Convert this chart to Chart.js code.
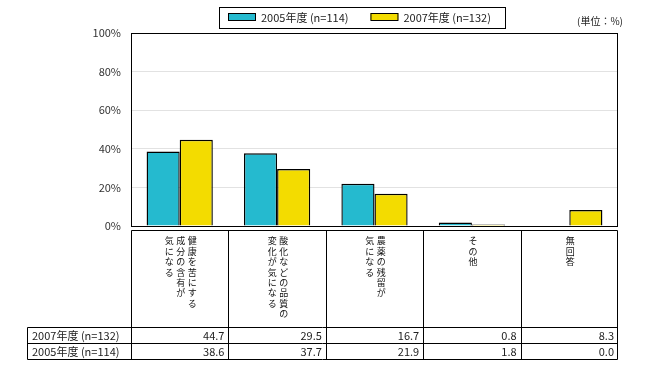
<!DOCTYPE html>
<html>
<head>
<meta charset="utf-8">
<script src="https://cdn.jsdelivr.net/npm/chart.js@4/dist/chart.umd.min.js"></script>
<style>
  html, body { margin: 0; padding: 0; background: #fff; }
  canvas { display: block; }
</style>
</head>
<body>
<canvas id="chart" width="650" height="370"></canvas>
<script>
// category labels, one string per vertical column (read right to left)
const categories = [
    ['健康を苦にする', '成分の含有が', '気になる'],
    ['酸化などの品質の', '変化が気になる'],
    ['農薬の残留が', '気になる'],
    ['その他'],
    ['無回答']
];
const seriesNames = ['2005年度 (n=114)', '2007年度 (n=132)'];
const values2005 = [38.6, 37.7, 21.9, 1.8, 0.0];
const values2007 = [44.7, 29.5, 16.7, 0.8, 8.3];
const yTicks = [0, 20, 40, 60, 80, 100];
const unitLabel = '(単位：%)';

const fontFamily = '"Noto Sans CJK JP", "Noto Sans", sans-serif';
const textColor = '#222';

Chart.defaults.font.family = fontFamily;

function line(ctx, x1, y1, x2, y2) {
    ctx.beginPath();
    ctx.moveTo(x1, y1);
    ctx.lineTo(x2, y2);
    ctx.stroke();
}

const extrasPlugin = {
    id: 'extras',
    afterDatasetsDraw(chart) {
        const ctx = chart.ctx;
        const area = chart.chartArea;
        ctx.save();
        ctx.strokeStyle = '#000';
        ctx.lineWidth = 1;
        ctx.strokeRect(Math.round(area.left) + 0.5, Math.round(area.top) + 0.5,
            Math.round(area.right - area.left) - 1, Math.round(area.bottom - area.top));
        ctx.restore();
    },
    afterDraw(chart) {
        const ctx = chart.ctx;
        const area = chart.chartArea;
        const xScale = chart.scales.x;
        const catWidth = (area.right - area.left) / categories.length;
        const left = Math.round(area.left) + 0.5;
        const right = Math.round(area.right) - 0.5;

        ctx.save();
        ctx.strokeStyle = '#000';
        ctx.lineWidth = 1;
        ctx.fillStyle = textColor;

        // legend
        const legTop = 7.5, legBottom = 28.5;
        ctx.strokeRect(219.5, legTop, 286, legBottom - legTop);
        ctx.font = '11px ' + fontFamily;
        ctx.textBaseline = 'middle';
        ctx.textAlign = 'left';
        let lx = 228;
        chart.data.datasets.forEach((ds) => {
            ctx.fillStyle = ds.backgroundColor;
            ctx.fillRect(lx, 13, 28, 7);
            ctx.strokeRect(lx + 0.5, 13.5, 27, 7);
            ctx.fillStyle = textColor;
            ctx.fillText(ds.label, lx + 33, 18);
            lx += 33 + ctx.measureText(ds.label).width + 22;
        });

        // unit
        ctx.font = '10px ' + fontFamily;
        ctx.textAlign = 'right';
        ctx.fillText(unitLabel, 623, 21);

        // category label box
        const boxTop = 230.5, boxBottom = 327.5;
        const rowH = 16;
        const tableLeft = 27.5;
        line(ctx, left, boxTop, right, boxTop);
        for (let i = 0; i <= categories.length; i++) {
            const x = Math.round(area.left + i * catWidth) + 0.5 - (i === categories.length ? 1 : 0);
            line(ctx, x, boxTop, x, boxBottom + 2 * rowH);
        }

        ctx.font = '9px ' + fontFamily;
        ctx.textAlign = 'center';
        ctx.textBaseline = 'middle';
        ctx.fillStyle = '#111';
        categories.forEach((cols, i) => {
            const cx = xScale.getPixelForValue(i) + 1;
            const n = cols.length;
            cols.forEach((col, j) => {
                const x = cx + ((n - 1) / 2 - j) * 11.5;
                Array.from(col).forEach((ch, k) => {
                    ctx.fillText(ch, x, 241 + k * 10.4);
                });
            });
        });

        // data table
        const rows = [
            { name: seriesNames[1], values: values2007 },
            { name: seriesNames[0], values: values2005 }
        ];
        line(ctx, tableLeft, boxBottom, right, boxBottom);
        line(ctx, tableLeft, boxBottom + rowH, right, boxBottom + rowH);
        line(ctx, tableLeft, boxBottom + 2 * rowH, right, boxBottom + 2 * rowH);
        line(ctx, tableLeft, boxBottom, tableLeft, boxBottom + 2 * rowH);

        ctx.font = '11px ' + fontFamily;
        ctx.fillStyle = textColor;
        rows.forEach((row, r) => {
            const y = boxBottom + r * rowH + rowH / 2 + 0.5;
            ctx.textAlign = 'left';
            ctx.fillText(row.name, 32, y);
            ctx.textAlign = 'right';
            row.values.forEach((v, i) => {
                const cellRight = area.left + (i + 1) * catWidth;
                ctx.fillText(v.toFixed(1), cellRight - 4, y);
            });
        });
        ctx.restore();
    }
};

new Chart(document.getElementById('chart'), {
    type: 'bar',
    data: {
        labels: categories.map((c) => c.join('')),
        datasets: [
            {
                label: seriesNames[0],
                data: values2005,
                backgroundColor: '#25BACF',
                borderColor: '#000',
                borderWidth: 1.4
            },
            {
                label: seriesNames[1],
                data: values2007,
                backgroundColor: '#F3DC00',
                borderColor: '#000',
                borderWidth: 1.4
            }
        ]
    },
    options: {
        responsive: false,
        animation: false,
        layout: {
            padding: { left: 0, right: 32, top: 33, bottom: 144 }
        },
        plugins: {
            legend: { display: false },
            tooltip: { enabled: false }
        },
        datasets: {
            bar: { categoryPercentage: 0.68, barPercentage: 1.0 }
        },
        scales: {
            x: { display: false },
            y: {
                min: 0,
                max: 100,
                afterFit(scale) { scale.width = 131; },
                afterBuildTicks(scale) { scale.ticks = yTicks.map((v) => ({ value: v })); },
                ticks: {
                    padding: 10,
                    color: '#333',
                    font: { size: 11 },
                    callback: (v) => v + '%'
                },
                grid: { color: '#e2e2e2', drawTicks: false },
                border: { display: false }
            }
        }
    },
    plugins: [extrasPlugin]
});
</script>
</body>
</html>
